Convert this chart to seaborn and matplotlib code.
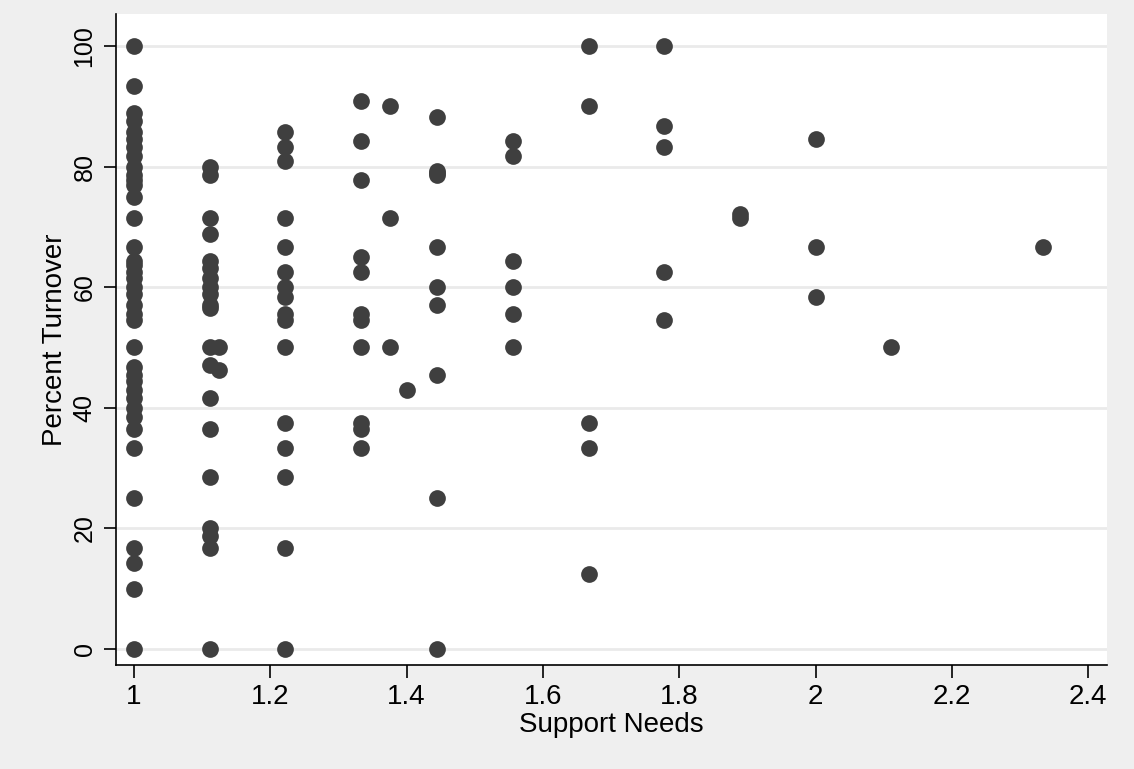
import matplotlib
matplotlib.use("Agg")
import matplotlib.pyplot as plt
import seaborn as sns
import pandas as pd

support_x1 = [1.0] * 38
turnover_x1 = [100, 93.3, 88.9, 87.5, 85.7, 84.6, 83.3, 81.8, 80.0, 78.6, 77.8, 76.9, 75.0,
               71.4, 66.7, 64.3, 63.6, 62.5, 61.5, 60.0, 58.8, 57.1, 55.6, 54.5, 50.0,
               46.7, 45.5, 44.4, 42.9, 41.7, 40.0, 38.5, 36.4, 33.3, 25.0, 16.7, 14.3, 10.0]
support_x1 += [1.0]
turnover_x1 += [0.0]

support_x2 = [1.111] * 20 + [1.125, 1.125]
turnover_x2 = [80.0, 78.6, 71.4, 68.8, 64.3, 63.2, 61.5, 60.0, 58.8, 56.5, 50.0, 47.1,
               41.7, 36.4, 28.6, 20.0, 18.8, 16.7, 0.0, 57.1, 50.0, 46.2]

support_x3 = [1.222] * 16
turnover_x3 = [85.7, 83.3, 81.0, 71.4, 66.7, 62.5, 60.0, 58.3, 55.6, 54.5, 50.0,
               37.5, 33.3, 28.6, 16.7, 0.0]

support_x4 = [1.333] * 11 + [1.375] * 3 + [1.4]
turnover_x4 = [90.9, 84.2, 77.8, 65.0, 62.5, 55.6, 54.5, 50.0, 37.5, 36.4, 33.3,
               90.0, 71.4, 50.0, 42.9]

support_x5 = [1.444] * 10
turnover_x5 = [88.2, 79.2, 78.6, 66.7, 60.0, 57.1, 45.5, 25.0, 0.0, 78.9]

support_x6 = [1.556] * 6 + [1.667] * 5 + [1.778] * 5
turnover_x6 = [84.2, 81.8, 64.3, 60.0, 55.6, 50.0,
               100.0, 90.0, 37.5, 33.3, 12.5,
               100.0, 86.7, 83.3, 62.5, 54.5]

support_x7 = [1.889, 1.889, 2.0, 2.0, 2.0, 2.111, 2.333]
turnover_x7 = [72.2, 71.4, 84.6, 66.7, 58.3, 50.0, 66.7]

x_ticks = [1, 1.2, 1.4, 1.6, 1.8, 2, 2.2, 2.4]
x_tick_labels = ["1", "1.2", "1.4", "1.6", "1.8", "2", "2.2", "2.4"]
y_ticks = [0, 20, 40, 60, 80, 100]
y_tick_labels = ["0", "20", "40", "60", "80", "100"]

support = support_x1 + support_x2 + support_x3 + support_x4 + support_x5 + support_x6 + support_x7
turnover = turnover_x1 + turnover_x2 + turnover_x3 + turnover_x4 + turnover_x5 + turnover_x6 + turnover_x7
df = pd.DataFrame({"Support Needs": support, "Percent Turnover": turnover})

sns.set_style("white")
plt.rcParams["font.family"] = ["Liberation Sans", "DejaVu Sans"]
plt.rcParams["text.color"] = "black"
plt.rcParams["axes.labelcolor"] = "black"
plt.rcParams["xtick.color"] = "black"
plt.rcParams["ytick.color"] = "black"

fig = plt.figure(figsize=(11.34, 7.69), dpi=100, facecolor="#EFEFEF")
ax = fig.add_axes([116 / 1134, 1 - 665 / 769, (1107 - 116) / 1134, (665 - 14) / 769])
ax.set_facecolor("white")

sns.scatterplot(data=df, x="Support Needs", y="Percent Turnover", ax=ax,
                color="#3F3F3F", s=145, linewidth=0, alpha=1, zorder=3)

ax.set_xlim(0.9736, 2.4276)
ax.set_ylim(-2.66, 105.3)
ax.set_xticks(x_ticks)
ax.set_xticklabels(x_tick_labels, fontsize=20)
ax.set_yticks(y_ticks)
ax.set_yticklabels(y_tick_labels, rotation=90, va="center", fontsize=18)

ax.grid(axis="y", color="#EAEAEA", linewidth=2)
ax.grid(axis="x", visible=False)
ax.set_axisbelow(True)

for side in ["top", "right"]:
    ax.spines[side].set_visible(False)
for side in ["left", "bottom"]:
    ax.spines[side].set_visible(True)
    ax.spines[side].set_color("black")
    ax.spines[side].set_linewidth(1.2)

ax.tick_params(axis="both", which="major", direction="out", length=9, width=1.2,
               color="black", pad=5, left=True, bottom=True)
ax.set_xlabel("Support Needs", fontsize=20, labelpad=1)
ax.set_ylabel("Percent Turnover", fontsize=20, labelpad=3)

fig.savefig("out.png", dpi=100, facecolor=fig.get_facecolor())
